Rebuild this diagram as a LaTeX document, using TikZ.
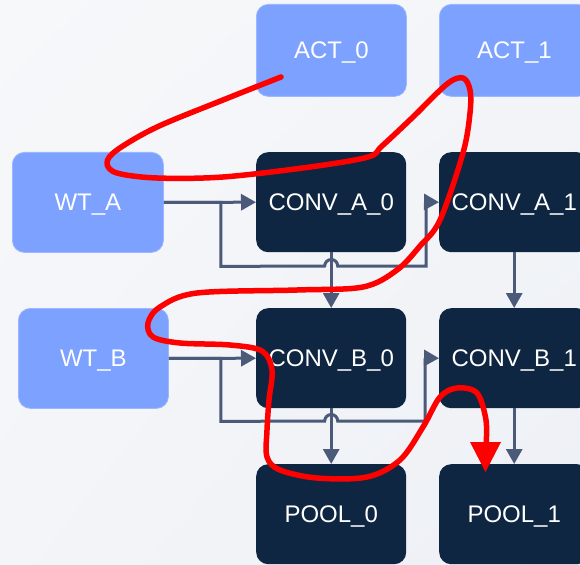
\documentclass[tikz,border=0pt]{standalone}
\usepackage{fontspec}
\setmainfont{Liberation Sans}
\usetikzlibrary{arrows.meta,calc,shadings}

\definecolor{bgTop}{HTML}{F7F8FA}
\definecolor{bgLow}{HTML}{EDF0F5}
\definecolor{inFill}{HTML}{7CA1FF}
\definecolor{inEdge}{HTML}{9CB6FF}
\definecolor{opFill}{HTML}{0E2641}
\definecolor{wireCol}{HTML}{4B5A78}
\definecolor{noteCol}{HTML}{FF0000}

\begin{document}
\begin{tikzpicture}[x=1pt,y=-1pt,
  box/.style={rounded corners=12pt, minimum width=150pt, minimum height=100pt,
    inner sep=0pt, text=white, font=\fontsize{24}{28}\selectfont,
    text height=17pt, text depth=0pt, anchor=north west},
  inbox/.style={box, fill=inFill, draw=inEdge, line width=0.8pt},
  opbox/.style={box, fill=opFill},
  wire/.style={draw=wireCol, line width=3pt},
  wirearrow/.style={wire, -{Triangle[length=15pt,width=16pt]}},
  hop/.style={radius=6.5},
  note/.style={draw=noteCol, line width=5.5pt, line cap=round, line join=round},
]
% canvas
\clip (0,0) rectangle (580,564);
\shade[upper left=bgTop, upper right=bgTop!60!bgLow, lower left=bgTop!60!bgLow, lower right=bgLow]
  (0,0) rectangle (580,564);

% inputs
\node[inbox, minimum height=92pt] (act0) at (256,4) {ACT\_0};
\node[inbox, minimum height=92pt] (act1) at (439,4) {ACT\_1};
\node[inbox, minimum width=151pt] (wta) at (12,152) {WT\_A};
\node[inbox] (wtb) at (18,308) {WT\_B};

% operators
\node[opbox] (conva0) at (256,152) {CONV\_A\_0};
\node[opbox] (conva1) at (439,152) {CONV\_A\_1};
\node[opbox] (convb0) at (256,308) {CONV\_B\_0};
\node[opbox] (convb1) at (439,308) {CONV\_B\_1};
\node[opbox] (pool0) at (256,464) {POOL\_0};
\node[opbox] (pool1) at (439,464) {POOL\_1};

% weight A feeds both convolutions of row A
\draw[wirearrow] (wta.east) -- (conva0.west);
\draw[wirearrow] (wta.east) -- ++(57,0) -- ++(0,64)
  -- ($(conva0.south |- 0,266)+(-6.5,0)$) arc[start angle=180, end angle=360, hop]
  -- (426,266) -- (426,202) -- (conva1.west);

% weight B feeds both convolutions of row B
\draw[wirearrow] (wtb.east) -- (convb0.west);
\draw[wirearrow] (wtb.east) -- ++(52,0) -- ++(0,63)
  -- ($(convb0.south |- 0,421)+(-6.5,0)$) arc[start angle=180, end angle=360, hop]
  -- (425,421) -- (425,358) -- (convb1.west);

% column flow
\draw[wirearrow] (conva0.south) -- (convb0.north);
\draw[wirearrow] (conva1.south) -- (convb1.north);
\draw[wirearrow] (convb0.south) -- (pool0.north);
\draw[wirearrow] (convb1.south) -- (pool1.north);

% hand-drawn execution order stroke
\draw[note] plot[smooth, tension=0.55] coordinates {
  (281,77) (223,100) (157,127) (117,150) (107,163) (117,173) (157,178)
  (223,177) (310,167) (368,157) (382,146) (413,117) (447,84) (463,78)
  (470,90) (470,113) (463,153) (440,220) (420,246) (397,270) (363,287)
  (297,290) (197,293) (160,307) (148,323) (153,337) (180,343) (230,345)
  (262,351) (272,370) (269,400) (267,430) (267,457) (280,470) (317,478)
  (367,477) (400,460) (423,427) (440,397) (457,388) (477,393) (486,420)
  (486,446)};
\fill[noteCol] (470,442) -- (501,442) -- (485.5,472) -- cycle;
\end{tikzpicture}
\end{document}
